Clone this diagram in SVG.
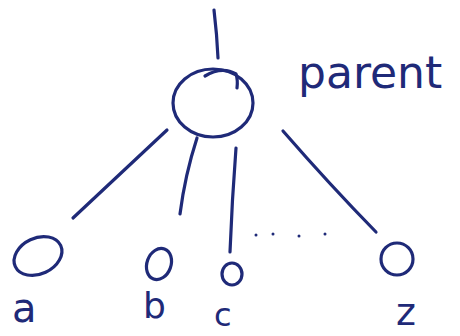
<svg xmlns="http://www.w3.org/2000/svg" width="460" height="336" viewBox="0 0 460 336">
<style>
.s{fill:none;stroke:#1f2a78;stroke-width:3.2;stroke-linecap:round}
.t{fill:#1f2a78;font-family:"DejaVu Sans","Liberation Sans",sans-serif}
.d{fill:#1f2a78}
</style>
<rect width="460" height="336" fill="#fff"/>
<g id="connectors">
<path class="s" d="M214 10 Q217 35 218 58"/>
<path class="s" d="M167 130 L73 218"/>
<path class="s" d="M197 138 Q185 175 180 214"/>
<path class="s" d="M236 148 Q232 200 230 252"/>
<path class="s" d="M283 131 Q330 185 376 232"/>
<circle class="d" cx="256" cy="235" r="1.5"/>
<circle class="d" cx="273" cy="234" r="1.5"/>
<circle class="d" cx="299" cy="236" r="1.5"/>
<circle class="d" cx="325" cy="234" r="1.5"/>
</g>
<g id="parent">
<ellipse class="s" cx="213" cy="103" rx="40" ry="34"/>
<path class="s" d="M205 76 Q222 66 236 74 Q238 80 237 88"/>
<text class="t" x="298" y="88" font-size="44">parent</text>
</g>
<g id="a">
<ellipse class="s" cx="38" cy="256" rx="25" ry="18" transform="rotate(-25 38 256)"/>
<text class="t" x="12" y="322" font-size="40">a</text>
</g>
<g id="b">
<ellipse class="s" cx="159" cy="264" rx="12" ry="16" transform="rotate(20 159 264)"/>
<text class="t" x="143" y="318" font-size="36">b</text>
</g>
<g id="c">
<ellipse class="s" cx="232" cy="274" rx="10" ry="11"/>
<text class="t" x="214" y="326" font-size="32">c</text>
</g>
<g id="z">
<ellipse class="s" cx="397" cy="259" rx="16" ry="16"/>
<text class="t" x="396" y="325" font-size="38">z</text>
</g>
</svg>
